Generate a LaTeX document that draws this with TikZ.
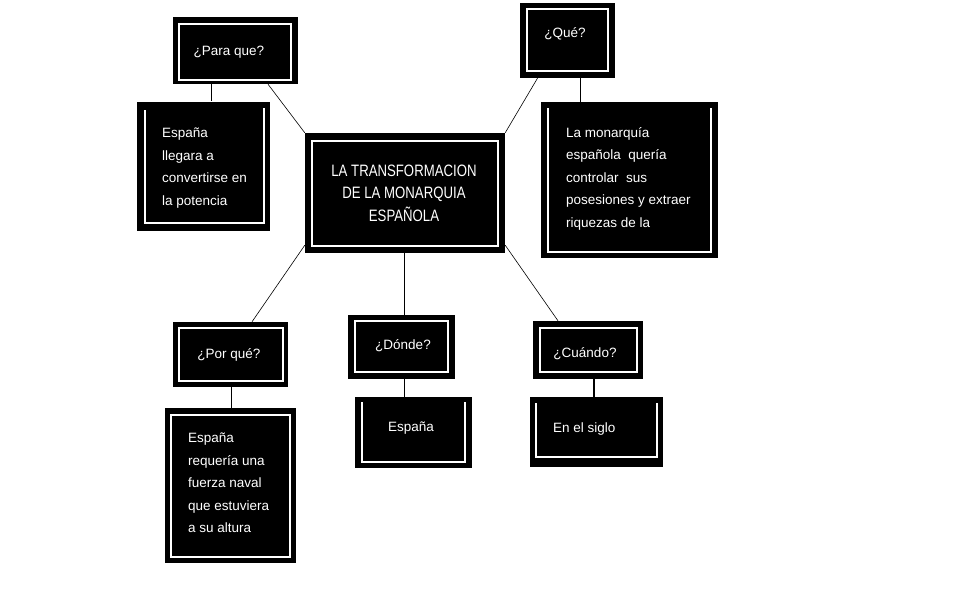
\documentclass[tikz,border=0pt]{standalone}
\usepackage{fontspec}
\setmainfont{Liberation Sans}
\newfontfamily\condfont{Liberation Sans}[FakeStretch=0.8]
\begin{document}
\begin{tikzpicture}[x=1pt,y=-1pt,
  box/.style={fill=black,draw=none,inner sep=0pt,text=white},
  inner/.style={draw=white,line width=1.6pt},
  link/.style={draw=black,line width=0.6pt},
  qtext/.style={text=white,inner sep=0pt,font=\fontsize{13.5}{15}\selectfont},
  atext/.style={text=white,inner sep=0pt,anchor=north west,align=left,font=\fontsize{13.5}{22.5}\selectfont}]
\useasboundingbox[fill=white] (0,0) rectangle (962,608);
% boxes
\node[box,minimum width=125,minimum height=67] (para) at (235.5,50.5) {};
\node[box,minimum width=133,minimum height=129] (llegara) at (203.5,166) {};
\node[box,minimum width=200,minimum height=120] (center) at (405,193) {};
\node[box,minimum width=95,minimum height=75] (que) at (567.5,40.5) {};
\node[box,minimum width=177,minimum height=156] (monarquia) at (629.5,180) {};
\node[box,minimum width=115,minimum height=65] (porque) at (230.5,354.5) {};
\node[box,minimum width=131,minimum height=155] (requeria) at (230.5,485.5) {};
\node[box,minimum width=107,minimum height=64] (donde) at (401.5,347) {};
\node[box,minimum width=117,minimum height=71] (espana) at (413.5,432.5) {};
\node[box,minimum width=110,minimum height=58] (cuando) at (588,350) {};
\node[box,minimum width=133,minimum height=70] (siglo) at (596.5,432) {};
% inner white frames
\draw[inner] (179,24) rectangle (291,80);
\draw[inner] (145,110) -- (145,223) -- (264,223) -- (264,108);
\draw[inner] (312,141) rectangle (498,246);
\draw[inner] (527,9) rectangle (608,71);
\draw[inner] (548,108) -- (548,252) -- (711,252) -- (711,108);
\draw[inner] (179,328) rectangle (283,381);
\draw[inner] (171,415) rectangle (290,557);
\draw[inner] (355,321) rectangle (448,372);
\draw[inner] (362,402) -- (362,462) -- (465,462) -- (465,402);
\draw[inner] (540,328) rectangle (637,372);
\draw[inner] (536,403) -- (536,457) -- (657,457) -- (657,403);
% texts
\node[qtext] (tpara) at (229,52) {¿Para que?};
\node[atext] (tllegara) at (162,128) {España\\llegara a\\convertirse en\\la potencia};
\node[text=white,inner sep=0pt,align=center,font=\condfont\fontsize{16.5}{22.5}\selectfont] (tcenter) at (404,193) {LA TRANSFORMACION\\DE LA MONARQUIA\\ESPAÑOLA};
\node[qtext] (tque) at (565,34) {¿Qué?};
\node[atext] (tmonarquia) at (566,127) {La monarquía\\española\ \ quería\\controlar\ \ sus\\posesiones y extraer\\riquezas de la};
\node[qtext] (tporque) at (229,355) {¿Por qué?};
\node[atext] (trequeria) at (188,433) {España\\requería una\\fuerza naval\\que estuviera\\a su altura};
\node[qtext] (tdonde) at (403,346) {¿Dónde?};
\node[qtext] (tespana) at (411,428) {España};
\node[qtext,anchor=west] (tsiglo) at (553,429) {En el siglo};
\node[qtext] (tcuando) at (585,354) {¿Cuándo?};
% connectors
\draw[link] (para.south -| 211,0) -- (llegara.north -| 211,0);
\draw[link] ([xshift=32.5pt]para.south) -- (center.north west);
\draw[link] ([xshift=-30pt]que.south) -- (center.north east);
\draw[link] (que.south -| 580,0) -- (monarquia.north -| 580,0);
\draw[link] ([yshift=8pt]center.south west) -- ([xshift=21.5pt]porque.north);
\draw[link] (center.south -| 404,0) -- (donde.north -| 404,0);
\draw[link] (donde.south -| 404,0) -- (espana.north -| 404,0);
\draw[link] ([yshift=8pt]center.south east) -- ([xshift=-30pt]cuando.north);
\draw[link] (porque.south -| 231,0) -- (requeria.north -| 231,0);
\draw[link,line width=2pt] (cuando.south -| 594,0) -- (siglo.north -| 594,0);
\end{tikzpicture}
\end{document}
